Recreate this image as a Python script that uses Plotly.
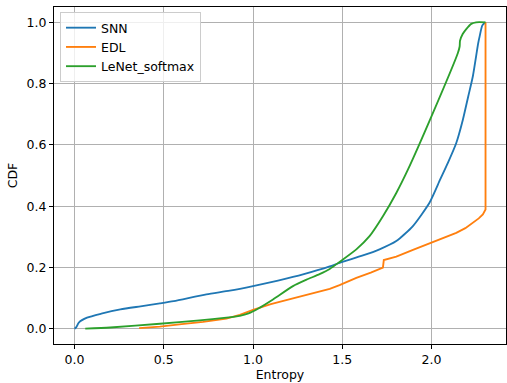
import plotly.graph_objects as go

snn_x = [0, 0.01, 0.024, 0.07, 0.15, 0.257, 0.37, 0.478, 0.556, 0.739, 0.87, 1.0, 1.14, 1.28, 1.43, 1.485, 1.616, 1.709,
         1.803, 1.896, 1.989, 2.049, 2.092, 2.139, 2.176, 2.206, 2.232, 2.262, 2.27, 2.285, 2.303]
snn_y = [0, 0.005, 0.02, 0.036, 0.049, 0.063, 0.073, 0.0825, 0.09, 0.112, 0.124, 0.139, 0.157, 0.177, 0.203, 0.215, 0.239, 0.259,
         0.286, 0.335, 0.411, 0.487, 0.541, 0.606, 0.682, 0.758, 0.824, 0.932, 0.954, 0.99, 1.0]

edl_x = [0.362, 0.478, 0.6, 0.72, 0.851, 0.926, 1.0, 1.1, 1.224, 1.33, 1.43, 1.485, 1.579, 1.66, 1.728, 1.733,
         1.803, 1.9, 2.0, 2.07, 2.139, 2.19, 2.232, 2.265, 2.288, 2.298, 2.303, 2.303]
edl_y = [0.002, 0.0065, 0.015, 0.022, 0.033, 0.045, 0.061, 0.08, 0.099, 0.114, 0.13, 0.142, 0.166, 0.183, 0.199, 0.224,
         0.235, 0.258, 0.282, 0.297, 0.313, 0.328, 0.346, 0.36, 0.373, 0.381, 0.389, 1.0]

lenet_x = [0.06, 0.2, 0.478, 0.7, 0.851, 0.926, 0.975, 1.03, 1.112, 1.224, 1.3, 1.373, 1.43, 1.485,
           1.579, 1.653, 1.728, 1.803, 1.868, 2.0, 2.148, 2.158, 2.16, 2.175, 2.195, 2.223, 2.25, 2.303]
lenet_y = [0.0, 0.004, 0.016, 0.027, 0.036, 0.042, 0.05, 0.066, 0.0955, 0.139, 0.16, 0.178, 0.195, 0.218,
           0.259, 0.302, 0.367, 0.443, 0.519, 0.693, 0.9, 0.921, 0.94, 0.962, 0.978, 0.995, 1.0, 1.0]

x_ticks = [0.0, 0.5, 1.0, 1.5, 2.0]
y_ticks = [0.0, 0.2, 0.4, 0.6, 0.8, 1.0]

fig = go.Figure()
for name, xs, ys, color, shape in [("SNN", snn_x, snn_y, "#1f77b4", "spline"),
                                   ("EDL", edl_x, edl_y, "#ff7f0e", "linear"),
                                   ("LeNet_softmax", lenet_x, lenet_y, "#2ca02c", "spline")]:
    fig.add_trace(go.Scatter(x=xs, y=ys, mode="lines", name=name,
                             line=dict(color=color, width=1.85, shape=shape, smoothing=0.6)))

font = dict(family="DejaVu Sans", size=12.5, color="#000000")
axis_common = dict(showline=True, mirror=True, linecolor="#000000", linewidth=1,
                   showgrid=True, gridcolor="#b0b0b0", gridwidth=1, zeroline=False,
                   ticks="outside", ticklen=4, tickcolor="#000000", tickwidth=1,
                   tickfont=font, title_font=font)

fig.update_layout(
    width=507, height=383,
    margin=dict(l=54, r=1, t=7, b=39),
    paper_bgcolor="white", plot_bgcolor="white",
    font=font,
    showlegend=True,
    legend=dict(x=0.0133, y=0.985, xanchor="left", yanchor="top",
                bgcolor="rgba(255,255,255,0.8)", bordercolor="#cccccc", borderwidth=1,
                font=font, tracegroupgap=0, itemwidth=30),
)
fig.update_xaxes(range=[-0.1151, 2.4177], tickvals=x_ticks, ticktext=[f"{v:.1f}" for v in x_ticks],
                 title_text="Entropy", title_standoff=3, **axis_common)
fig.update_yaxes(range=[-0.05, 1.05], tickvals=y_ticks, ticktext=[f"{v:.1f}" for v in y_ticks],
                 title_text="CDF", title_standoff=6, **axis_common)

fig.write_html("out.html")
